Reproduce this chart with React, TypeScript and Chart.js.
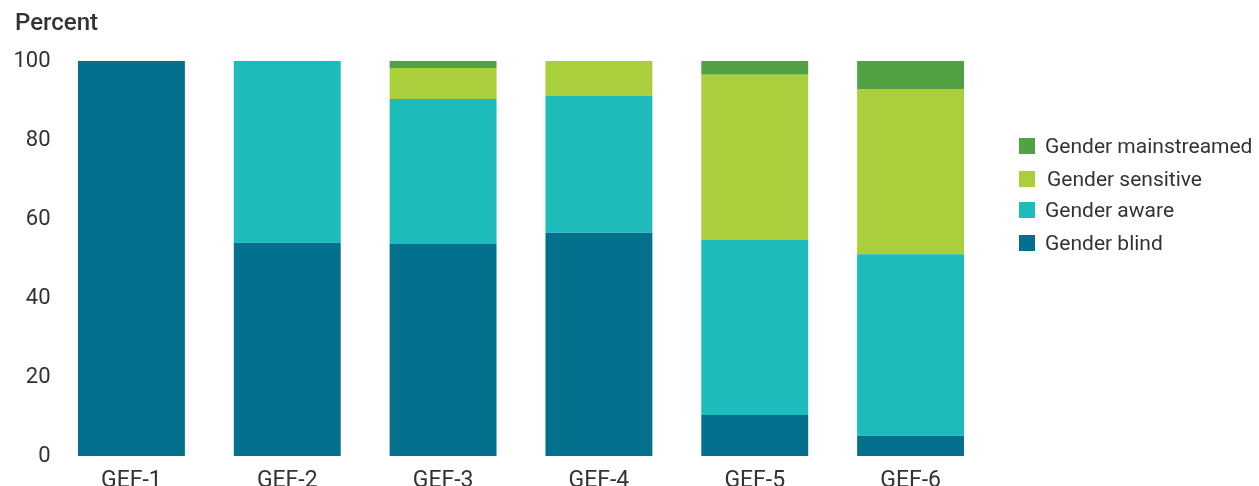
import React, { useEffect, useRef } from "react";
import { Chart, registerables } from "chart.js";

Chart.register(...registerables);

const categories = ["GEF-1", "GEF-2", "GEF-3", "GEF-4", "GEF-5", "GEF-6"];
const genderBlind = [100, 54, 53.7, 56.5, 10.4, 5.1];
const genderAware = [0, 46, 36.7, 34.7, 44.3, 46.0];
const genderSensitive = [0, 0, 7.8, 8.8, 41.8, 41.8];
const genderMainstreamed = [0, 0, 1.8, 0, 3.5, 7.1];
const yTicks = [0, 20, 40, 60, 80, 100];

const seriesNames = ["Gender blind", "Gender aware", "Gender sensitive", "Gender mainstreamed"];
const seriesColors = ["#03708E", "#1EBBBB", "#AACF3C", "#52A245"];

const FONT = "Roboto, 'Noto Sans', sans-serif";

export default function App() {
  const ref = useRef<HTMLCanvasElement | null>(null);

  useEffect(() => {
    if (!ref.current) return;
    const values = [genderBlind, genderAware, genderSensitive, genderMainstreamed];
    const chart = new Chart(ref.current, {
      type: "bar",
      data: {
        labels: categories,
        datasets: values.map((v, i) => ({
          label: seriesNames[i],
          data: v,
          backgroundColor: seriesColors[i],
          borderWidth: 0,
          categoryPercentage: 1,
          barPercentage: 0.686,
        })),
      },
      options: {
        animation: false,
        responsive: false,
        maintainAspectRatio: false,
        layout: { padding: { top: 61, right: 270.5, bottom: 0, left: 0 } },
        plugins: { legend: { display: false }, tooltip: { enabled: false } },
        scales: {
          x: {
            stacked: true,
            grid: { display: false, drawTicks: false },
            border: { display: false },
            ticks: { color: "#333", font: { family: FONT, size: 23 }, padding: 11 },
            afterFit: (s: any) => { s.height = 40; },
          },
          y: {
            stacked: true,
            min: 0,
            max: 100,
            afterBuildTicks: (s: any) => { s.ticks = yTicks.map((v) => ({ value: v })); },
            grid: { display: false, drawTicks: false },
            border: { display: false },
            ticks: { color: "#333", font: { family: FONT, size: 22 }, padding: 3 },
            afterFit: (s: any) => { s.width = 53.5; },
          },
        },
      },
    });
    return () => chart.destroy();
  }, []);

  const legendItems = [
    { name: "Gender mainstreamed", color: seriesColors[3], top: 138, textLeft: 1045 },
    { name: "Gender sensitive", color: seriesColors[2], top: 171, textLeft: 1047 },
    { name: "Gender aware", color: seriesColors[1], top: 202, textLeft: 1045 },
    { name: "Gender blind", color: seriesColors[0], top: 235, textLeft: 1045 },
  ];

  return (
    <div style={{ position: "fixed", left: 0, top: 0, width: 1259, height: 486, overflow: "hidden", background: "#fff" }}>
      <canvas ref={ref} width={1259} height={496} style={{ position: "absolute", left: 0, top: 0, width: 1259, height: 496 }} />
      <div style={{ position: "absolute", left: 15, top: 8, fontFamily: FONT, fontWeight: 500, fontSize: 24, color: "#333", lineHeight: "28px" }}>
        Percent
      </div>
      {legendItems.map((it) => (
        <React.Fragment key={it.name}>
          <div style={{ position: "absolute", left: 1019, top: it.top, width: 16, height: 16, background: it.color }} />
          <div style={{ position: "absolute", left: it.textLeft, top: it.top - 6, fontFamily: FONT, fontSize: 21, color: "#333", lineHeight: "28px", whiteSpace: "nowrap" }}>
            {it.name}
          </div>
        </React.Fragment>
      ))}
    </div>
  );
}
